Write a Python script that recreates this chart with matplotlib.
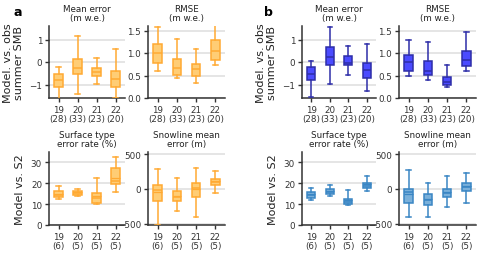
import matplotlib
matplotlib.use("Agg")
import matplotlib.pyplot as plt

# x tick labels
years = ["19", "20", "21", "22"]
n_smb = ["(28)", "(33)", "(23)", "(20)"]
n_s2 = ["(6)", "(5)", "(5)", "(5)"]

# box stats: whislo, q1, med, q3, whishi (mean for lower row)
# panel a
a_me_lo = [-2.0, -1.42, -0.97, -1.58]
a_me_q1 = [-1.09, -0.53, -0.64, -1.09]
a_me_med = [-0.82, -0.27, -0.45, -0.76]
a_me_q3 = [-0.53, 0.15, -0.28, -0.42]
a_me_hi = [-0.21, 1.14, 0.19, 0.58]

a_rm_lo = [0.60, 0.44, 0.34, 0.73]
a_rm_q1 = [0.78, 0.52, 0.49, 0.85]
a_rm_med = [1.00, 0.66, 0.65, 1.05]
a_rm_q3 = [1.21, 0.86, 0.75, 1.30]
a_rm_hi = [1.57, 1.31, 1.08, 1.75]

a_st_lo = [12.4, 13.9, 10.0, 15.9]
a_st_q1 = [13.6, 14.6, 10.4, 19.7]
a_st_med = [14.2, 15.3, 12.8, 21.3]
a_st_q3 = [16.1, 16.2, 15.5, 27.1]
a_st_hi = [18.8, 17.4, 22.3, 32.6]
a_st_mean = [14.9, 15.6, 14.0, 22.3]

a_sl_lo = [-515, -319, -407, -54]
a_sl_q1 = [-181, -176, -123, 54]
a_sl_med = [-10, -123, 15, 103]
a_sl_q3 = [54, -34, 83, 137]
a_sl_hi = [284, 152, 299, 255]
a_sl_mean = [-50, -100, 0, 110]

# panel b
b_me_lo = [-1.57, -0.99, -0.57, -1.30]
b_me_q1 = [-0.79, -0.12, -0.15, -0.70]
b_me_med = [-0.52, 0.22, -0.04, -0.36]
b_me_q3 = [-0.22, 0.67, 0.25, -0.04]
b_me_hi = [0.05, 1.57, 0.70, 0.79]

b_rm_lo = [0.48, 0.39, 0.25, 0.61]
b_rm_q1 = [0.60, 0.51, 0.29, 0.71]
b_rm_med = [0.79, 0.59, 0.36, 0.84]
b_rm_q3 = [0.96, 0.82, 0.47, 1.04]
b_rm_hi = [1.30, 1.24, 0.74, 1.46]

b_st_lo = [11.9, 14.0, 9.7, 16.1]
b_st_q1 = [13.0, 14.8, 10.0, 17.6]
b_st_med = [14.2, 15.8, 11.0, 18.9]
b_st_q3 = [15.8, 17.4, 12.7, 20.0]
b_st_hi = [17.6, 19.0, 16.6, 23.5]
b_st_mean = [14.9, 16.5, 12.0, 19.6]

b_sl_lo = [-400, -410, -263, -200]
b_sl_q1 = [-205, -234, -122, -34]
b_sl_med = [-49, -166, -63, 24]
b_sl_q3 = [0, -73, 5, 78]
b_sl_hi = [273, 88, 180, 234]
b_sl_mean = [-80, -140, -50, 40]


def stats(lo, q1, med, q3, hi, mean=None):
    out = []
    for i in range(len(lo)):
        d = dict(whislo=lo[i], q1=q1[i], med=med[i], q3=q3[i], whishi=hi[i], fliers=[])
        if mean is not None:
            d["mean"] = mean[i]
        out.append(d)
    return out


W, H = 500, 255
fig = plt.figure(figsize=(W / 100, H / 100), dpi=100)


def px_axes(x0, y0, x1, y1):
    return fig.add_axes([x0 / W, 1 - y1 / H, (x1 - x0) / W, (y1 - y0) / H])


def draw(ax, st, face, edge, title, ylim, yticks, counts, showmeans=False):
    lp = dict(color=edge, linewidth=1.1)
    ax.bxp(st, positions=[1, 2, 3, 4], widths=0.45, patch_artist=True,
           showfliers=False, showmeans=showmeans, meanline=True,
           boxprops=dict(facecolor=face, edgecolor=edge, linewidth=1.1),
           medianprops=lp, whiskerprops=lp, capprops=lp,
           meanprops=dict(color=edge, linewidth=0.9, linestyle="-"),
           zorder=3)
    ax.set_xlim(0.5, 4.5)
    ax.set_ylim(*ylim)
    ax.set_yticks(yticks)
    ax.set_xticks([1, 2, 3, 4])
    ax.set_xticklabels([y + "\n" + c for y, c in zip(years, counts)], linespacing=1.05)
    ax.yaxis.grid(True, color="#e3e3e3", linewidth=1.3, zorder=0)
    ax.set_axisbelow(True)
    for s in ["top", "right"]:
        ax.spines[s].set_visible(False)
    for s in ["left", "bottom"]:
        ax.spines[s].set_color("#333333")
        ax.spines[s].set_linewidth(1.1)
    ax.tick_params(labelsize=6.3, colors="#333333", length=3, width=1, pad=2)
    ax.set_title(title, fontsize=6.3, color="#222222", pad=4, linespacing=1.1)


orange_face = "#FFCD75"
orange_edge = "#FFAA33"
blue_face = "#4B4BFF"
blue_edge = "#2E2EA8"
lblue_face = "#7AB0DA"
lblue_edge = "#3A86C4"

top = (27, 99)
bot = (153, 226)
cols = [(49, 125), (148, 225), (302, 376), (399, 476)]

ax = px_axes(cols[0][0], top[0], cols[0][1], top[1])
draw(ax, stats(a_me_lo, a_me_q1, a_me_med, a_me_q3, a_me_hi), orange_face, orange_edge,
     "Mean error\n(m w.e.)", (-1.6, 1.6), [-1, 0, 1], n_smb)
ax.set_ylabel("Model. vs. obs\nsummer SMB", fontsize=8, color="#222222", linespacing=1.1)
ax = px_axes(cols[1][0], top[0], cols[1][1], top[1])
draw(ax, stats(a_rm_lo, a_rm_q1, a_rm_med, a_rm_q3, a_rm_hi), orange_face, orange_edge,
     "RMSE\n(m w.e.)", (0, 1.6), [0, 0.5, 1.0, 1.5], n_smb)
ax = px_axes(cols[0][0], bot[0], cols[0][1], bot[1])
draw(ax, stats(a_st_lo, a_st_q1, a_st_med, a_st_q3, a_st_hi, a_st_mean), orange_face, orange_edge,
     "Surface type\nerror rate (%)", (0, 35), [0, 10, 20, 30], n_s2, True)
ax.set_ylabel("Model vs. S2", fontsize=8, color="#222222")
ax = px_axes(cols[1][0], bot[0], cols[1][1], bot[1])
draw(ax, stats(a_sl_lo, a_sl_q1, a_sl_med, a_sl_q3, a_sl_hi, a_sl_mean), orange_face, orange_edge,
     "Snowline mean\nerror (m)", (-520, 530), [-500, 0, 500], n_s2, True)

ax = px_axes(cols[2][0], top[0], cols[2][1], top[1])
draw(ax, stats(b_me_lo, b_me_q1, b_me_med, b_me_q3, b_me_hi), blue_face, blue_edge,
     "Mean error\n(m w.e.)", (-1.6, 1.6), [-1, 0, 1], n_smb)
ax.set_ylabel("Model. vs. obs\nsummer SMB", fontsize=8, color="#222222", linespacing=1.1)
ax = px_axes(cols[3][0], top[0], cols[3][1], top[1])
draw(ax, stats(b_rm_lo, b_rm_q1, b_rm_med, b_rm_q3, b_rm_hi), blue_face, blue_edge,
     "RMSE\n(m w.e.)", (0, 1.6), [0, 0.5, 1.0, 1.5], n_smb)
ax = px_axes(cols[2][0], bot[0], cols[2][1], bot[1])
draw(ax, stats(b_st_lo, b_st_q1, b_st_med, b_st_q3, b_st_hi, b_st_mean), lblue_face, lblue_edge,
     "Surface type\nerror rate (%)", (0, 35), [0, 10, 20, 30], n_s2, True)
ax.set_ylabel("Model vs. S2", fontsize=8, color="#222222")
ax = px_axes(cols[3][0], bot[0], cols[3][1], bot[1])
draw(ax, stats(b_sl_lo, b_sl_q1, b_sl_med, b_sl_q3, b_sl_hi, b_sl_mean), lblue_face, lblue_edge,
     "Snowline mean\nerror (m)", (-520, 530), [-500, 0, 500], n_s2, True)

fig.text(13 / W, 1 - 13 / H, "a", fontsize=9, fontweight="bold", va="center")
fig.text(264 / W, 1 - 13 / H, "b", fontsize=9, fontweight="bold", va="center")

fig.savefig("out.png", dpi=100)
